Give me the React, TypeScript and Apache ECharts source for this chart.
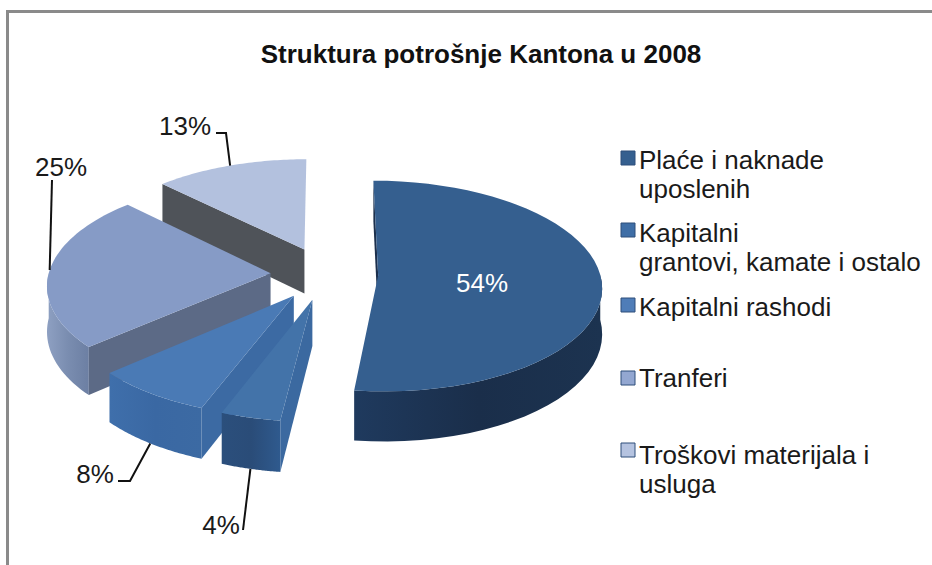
import React, { useEffect, useRef } from "react";
import * as echarts from "echarts";

const titleText = "Struktura potrošnje Kantona u 2008";
const categories = [
  "Plaće i naknade\nuposlenih",
  "Kapitalni\ngrantovi, kamate i ostalo",
  "Kapitalni rashodi",
  "Tranferi",
  "Troškovi materijala i\nusluga",
];
const shares = [54, 4, 8, 25, 13];

// --- styling / layout ---
const legendColors = ["#355f8f", "#3f6ea6", "#4f7db8", "#93a7d1", "#b5c3e0"];
const topColors = ["#355f8f", "#4373a9", "#4a7ab5", "#869bc6", "#b3c1de"];
const radialWallColors = ["#1c304d", "#3b69a0", "#3c6aa3", "#5c6a86", "#4f5359"];
const arcWallStops = [
  ["#1f3a5e", "#1a2e4a", "#1c3350"],
  ["#2b4f7c", "#2a4c78", "#2f5a8e"],
  ["#3f6fab", "#3a68a3", "#3c6aa3"],
  ["#8ea0c2", "#7a8db0", "#6c7fa3"],
  ["#b3c1de", "#b3c1de", "#b3c1de"],
];
const explode = [0.235, 0.25, 0.25, 0.25, 0.26];
const center = { x: 326, y: 274 };
const radius = { x: 222, y: 104 };
const perspective = 0.1;
const depth = 45;
const font = '26px "Liberation Sans", Arial, sans-serif';
const labelAnchors: number[][] = [[482, 283], [221, 525], [95, 474], [61, 167], [185, 126]];
const leaderElbows: number[][][] = [[], [[243, 530]], [[118, 481], [130, 481]], [[52, 180]], [[216, 133], [226, 133]]];
const legendMarkerRows = [158, 230, 305, 378, 450];
const legendTextRows = [160, 233, 307, 378, 455];

const total = shares.reduce((a, b) => a + b, 0);

function project(X: number, Y: number, drop = 0): number[] {
  const s = 1 / (1 + perspective * Y);
  return [center.x + radius.x * X * s, center.y - radius.y * Y * s + drop * s];
}

function renderSlice(params: any, api: any) {
  const i = params.dataIndex;
  const value = api.value(0) as number;
  const before = shares.slice(0, i).reduce((a, b) => a + b, 0);
  const a0 = (before / total) * Math.PI * 2;
  const a1 = ((before + value) / total) * Math.PI * 2;
  const mid = (a0 + a1) / 2;
  const ax = explode[i] * Math.sin(mid);
  const ay = explode[i] * Math.cos(mid);
  const steps = 48;
  const rim = (t: number, drop = 0) => project(ax + Math.sin(t), ay + Math.cos(t), drop);
  const arc: number[] = [];
  for (let k = 0; k <= steps; k++) arc.push(a0 + ((a1 - a0) * k) / steps);
  const base = (5 - i) * 10;
  const children: any[] = [];

  // outer wall: the arc parts that face the viewer
  const visible = arc.filter((t) => Math.cos(t) <= 0.02);
  if (visible.length > 1) {
    const pts = [...visible.map((t) => rim(t)), ...visible.slice().reverse().map((t) => rim(t, depth))];
    const stops = arcWallStops[i];
    children.push({
      type: "polygon",
      z2: base + 1,
      shape: { points: pts },
      style: {
        fill: new echarts.graphic.LinearGradient(0, 0, 1, 0, [
          { offset: 0, color: stops[0] },
          { offset: 0.5, color: stops[1] },
          { offset: 1, color: stops[2] },
        ]),
      },
    });
  }
  // radial walls
  const apexTop = project(ax, ay);
  const apexBottom = project(ax, ay, depth);
  for (const t of [a0, a1]) {
    const facing = t === a0 ? Math.sin(t) < 0.001 : Math.sin(t) > 0.001;
    if (!facing) continue;
    children.push({
      type: "polygon",
      z2: base + 2,
      shape: { points: [apexTop, rim(t), rim(t, depth), apexBottom] },
      style: { fill: radialWallColors[i] },
    });
  }
  // top face
  children.push({
    type: "polygon",
    z2: base + 3,
    shape: { points: [apexTop, ...arc.map((t) => rim(t))] },
    style: { fill: topColors[i] },
  });
  // data label and leader line
  const anchor = labelAnchors[i];
  children.push({
    type: "text",
    z2: 100,
    style: {
      x: anchor[0],
      y: anchor[1],
      text: `${value}%`,
      fill: i === 0 ? "#ffffff" : "#1a1a1a",
      font,
      align: "center",
      verticalAlign: "middle",
    },
  });
  if (i > 0) {
    const onFront = Math.cos(mid) < -0.5;
    const end = rim(mid, onFront ? depth : 0);
    children.push({
      type: "polyline",
      z2: 99,
      shape: { points: [...leaderElbows[i], end] },
      style: { stroke: "#111111", lineWidth: 2, fill: "none" },
    });
  }
  return { type: "group", children };
}

export default function App() {
  const ref = useRef<HTMLDivElement>(null);
  useEffect(() => {
    const chart = echarts.init(ref.current!, null, { renderer: "svg" });
    const legendGraphics: any[] = [];
    categories.forEach((name, i) => {
      legendGraphics.push({
        type: "rect",
        shape: { x: 621, y: legendMarkerRows[i] - 7, width: 14, height: 14 },
        style: { fill: legendColors[i], stroke: "#2f4f7a", lineWidth: 1 },
      });
      legendGraphics.push({
        type: "text",
        x: 639,
        y: legendTextRows[i] - 14.5,
        style: { text: name, fill: "#1a1a1a", font, lineHeight: 29 },
      });
    });
    chart.setOption({
      animation: false,
      backgroundColor: "#ffffff",
      title: {
        text: titleText,
        left: 476,
        top: 36,
        textAlign: "center",
        textStyle: { fontFamily: '"Liberation Sans", Arial, sans-serif', fontSize: 26, fontWeight: "bold", color: "#111111" },
      },
      graphic: [
        { type: "rect", shape: { x: 7.5, y: 11.5, width: 1000, height: 700 }, style: { fill: "none", stroke: "#8a8a8a", lineWidth: 3 } },
        ...legendGraphics,
      ],
      series: [
        {
          type: "custom",
          coordinateSystem: "none",
          renderItem: renderSlice,
          data: shares.map((v, i) => ({ name: categories[i], value: [v] })),
        },
      ],
    });
    return () => chart.dispose();
  }, []);
  return <div ref={ref} style={{ position: "fixed", left: 0, top: 0, width: 932, height: 565 }} />;
}
